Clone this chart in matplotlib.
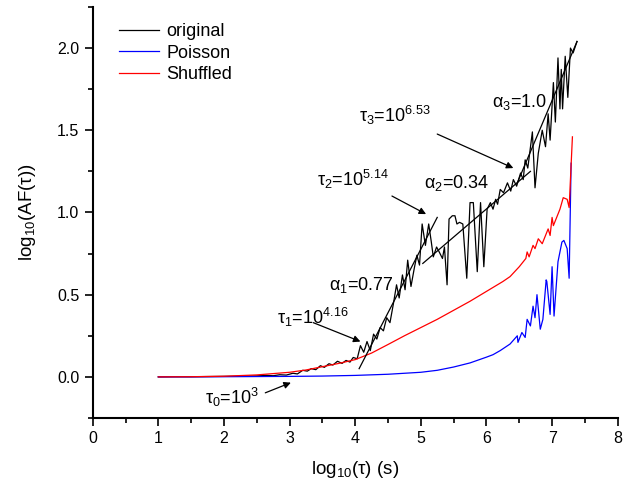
import matplotlib
matplotlib.use("Agg")
import matplotlib.pyplot as plt
import numpy as np

plt.rcParams['font.family'] = ['Liberation Sans', 'DejaVu Sans']
plt.rcParams['mathtext.fontset'] = 'custom'
plt.rcParams['mathtext.rm'] = 'Liberation Sans'
plt.rcParams['mathtext.it'] = 'Liberation Sans'
plt.rcParams['mathtext.default'] = 'regular'

# original series
orig_x = [1.00, 1.25, 1.50, 1.75, 2.00, 2.25, 2.50, 2.65, 2.75, 2.85, 2.95, 3.05,
          3.12, 3.20, 3.27, 3.33, 3.40, 3.47, 3.53, 3.60, 3.66, 3.73, 3.80, 3.86,
          3.92, 3.97, 4.03, 4.08, 4.13, 4.18, 4.23, 4.28, 4.33, 4.38, 4.43, 4.48,
          4.53, 4.58, 4.63, 4.67, 4.72, 4.76, 4.80, 4.85, 4.90, 4.94, 4.98, 5.02,
          5.07, 5.12, 5.16, 5.19, 5.24, 5.28, 5.33, 5.36, 5.40, 5.43, 5.48, 5.52,
          5.55, 5.59, 5.64, 5.70, 5.75, 5.80, 5.86, 5.91, 5.96, 6.01, 6.06, 6.10,
          6.14, 6.17, 6.21, 6.26, 6.32, 6.37, 6.41, 6.46, 6.52, 6.56, 6.59, 6.63,
          6.70, 6.74, 6.79, 6.85, 6.90, 6.94, 6.97, 7.02, 7.05, 7.09, 7.12, 7.14,
          7.16, 7.20, 7.24, 7.28, 7.32, 7.38]
orig_y = [0.000, 0.001, 0.001, 0.002, 0.003, 0.004, 0.006, 0.009, 0.007, 0.013, 0.011, 0.022,
          0.018, 0.040, 0.035, 0.050, 0.044, 0.068, 0.058, 0.080, 0.072, 0.095, 0.082, 0.100,
          0.090, 0.118, 0.110, 0.190, 0.150, 0.215, 0.160, 0.260, 0.230, 0.300, 0.280, 0.360,
          0.330, 0.440, 0.560, 0.480, 0.620, 0.530, 0.710, 0.550, 0.660, 0.740, 0.680, 0.930,
          0.800, 0.930, 0.820, 0.730, 0.790, 0.760, 0.720, 0.790, 0.560, 0.960, 0.980, 0.980,
          0.930, 0.940, 0.930, 0.600, 1.060, 1.060, 0.640, 1.060, 0.670, 1.020, 1.060, 1.020,
          1.080, 1.050, 1.140, 1.120, 1.180, 1.130, 1.200, 1.160, 1.240, 1.200, 1.320, 1.270,
          1.490, 1.150, 1.360, 1.500, 1.400, 1.600, 1.440, 1.790, 1.550, 1.940, 1.630, 1.870,
          1.630, 1.950, 1.700, 2.000, 1.970, 2.040]

# Poisson series
pois_x = [1.0, 1.5, 2.0, 2.5, 3.0, 3.5, 4.0, 4.5, 5.0, 5.25, 5.5, 5.75, 6.0, 6.1,
          6.21, 6.36, 6.47, 6.48, 6.54, 6.59, 6.62, 6.67, 6.71, 6.74, 6.77, 6.82,
          6.86, 6.91, 6.92, 6.97, 7.00, 7.03, 7.09, 7.15, 7.18, 7.23, 7.26, 7.29]
pois_y = [0.000, 0.000, 0.001, 0.002, 0.003, 0.005, 0.009, 0.016, 0.028, 0.040, 0.060, 0.085,
          0.120, 0.135, 0.160, 0.200, 0.250, 0.210, 0.270, 0.240, 0.350, 0.310, 0.430,
          0.360, 0.500, 0.290, 0.350, 0.590, 0.580, 0.380, 0.670, 0.370, 0.700, 0.820,
          0.830, 0.780, 0.600, 1.300]

# shuffled series
shuf_x = [1.0, 1.5, 2.0, 2.5, 3.0, 3.25, 3.5, 3.75, 4.0, 4.25, 4.5, 4.75, 5.0, 5.25,
          5.5, 5.75, 6.0, 6.25, 6.36, 6.5, 6.6, 6.62, 6.65, 6.71, 6.74, 6.79, 6.85,
          6.94, 6.97, 7.0, 7.02, 7.12, 7.17, 7.23, 7.26, 7.31]
shuf_y = [0.000, 0.001, 0.004, 0.012, 0.028, 0.042, 0.062, 0.082, 0.105, 0.145, 0.197,
          0.250, 0.300, 0.350, 0.405, 0.460, 0.520, 0.580, 0.610, 0.670, 0.720, 0.760,
          0.730, 0.800, 0.780, 0.840, 0.810, 0.900, 0.860, 0.970, 0.920, 1.020, 1.090,
          1.080, 1.030, 1.460]

# fitted regimes
fit1_x, fit1_y = [4.06, 5.25], [0.05, 0.97]
fit2_x, fit2_y = [5.03, 6.67], [0.69, 1.25]
fit3_x, fit3_y = [6.47, 7.38], [1.18, 2.04]

fig = plt.figure(figsize=(6.28, 4.83), dpi=100)
ax = fig.add_axes([0.1476, 0.1346, 0.836, 0.851])

ax.plot(orig_x, orig_y, color='black', lw=0.9, label='original')
ax.plot(pois_x, pois_y, color='blue', lw=0.9, label='Poisson')
ax.plot(shuf_x, shuf_y, color='red', lw=0.9, label='Shuffled')
for fx, fy in [(fit1_x, fit1_y), (fit2_x, fit2_y), (fit3_x, fit3_y)]:
    ax.plot(fx, fy, color='black', lw=0.9)

fs = 13
arr = dict(arrowstyle='-|>', color='black', lw=0.9, mutation_scale=10, shrinkA=0, shrinkB=0)
ax.annotate('', xy=(3.02, -0.035), xytext=(2.63, -0.097), arrowprops=arr)
ax.annotate('', xy=(4.08, 0.215), xytext=(3.36, 0.33), arrowprops=arr)
ax.annotate('', xy=(5.08, 0.99), xytext=(4.56, 1.10), arrowprops=arr)
ax.annotate('', xy=(6.41, 1.27), xytext=(5.25, 1.477), arrowprops=arr)

ax.text(2.13, -0.125, r'$\tau_0$=10$^3$', fontsize=fs, ha='center', va='center')
ax.text(3.35, 0.36, r'$\tau_1$=10$^{4.16}$', fontsize=fs, ha='center', va='center')
ax.text(3.96, 1.20, r'$\tau_2$=10$^{5.14}$', fontsize=fs, ha='center', va='center')
ax.text(4.61, 1.59, r'$\tau_3$=10$^{6.53}$', fontsize=fs, ha='center', va='center')
ax.text(4.10, 0.56, r'$\alpha_1$=0.77', fontsize=fs, ha='center', va='center')
ax.text(5.54, 1.18, r'$\alpha_2$=0.34', fontsize=fs, ha='center', va='center')
ax.text(6.50, 1.67, r'$\alpha_3$=1.0', fontsize=fs, ha='center', va='center')

ax.set_xlim(0, 8)
ax.set_ylim(-0.25, 2.25)
ax.set_xticks(np.arange(0, 9, 1))
ax.set_xticks(np.arange(0.5, 8, 1), minor=True)
ax.set_yticks([0.0, 0.5, 1.0, 1.5, 2.0])
ax.set_yticks([-0.25, 0.25, 0.75, 1.25, 1.75, 2.25], minor=True)
ax.set_yticklabels(['0.0', '0.5', '1.0', '1.5', '2.0'])
ax.tick_params(which='major', direction='out', length=6, width=1.2, labelsize=11.5)
ax.tick_params(which='minor', direction='out', length=3.5, width=1.2)
for s in ['top', 'right']:
    ax.spines[s].set_visible(False)
for s in ['left', 'bottom']:
    ax.spines[s].set_linewidth(1.5)

ax.set_xlabel(r'log$_{10}$($\tau$) (s)', fontsize=13.5, labelpad=9)
ax.set_ylabel(r'log$_{10}$(AF($\tau$))', fontsize=13.5, labelpad=14)

ax.legend(loc='upper left', bbox_to_anchor=(0.02, 1.0), frameon=False, fontsize=13,
          handlelength=2.2, handletextpad=0.4, labelspacing=0.25)

fig.savefig('out.png', dpi=100)
